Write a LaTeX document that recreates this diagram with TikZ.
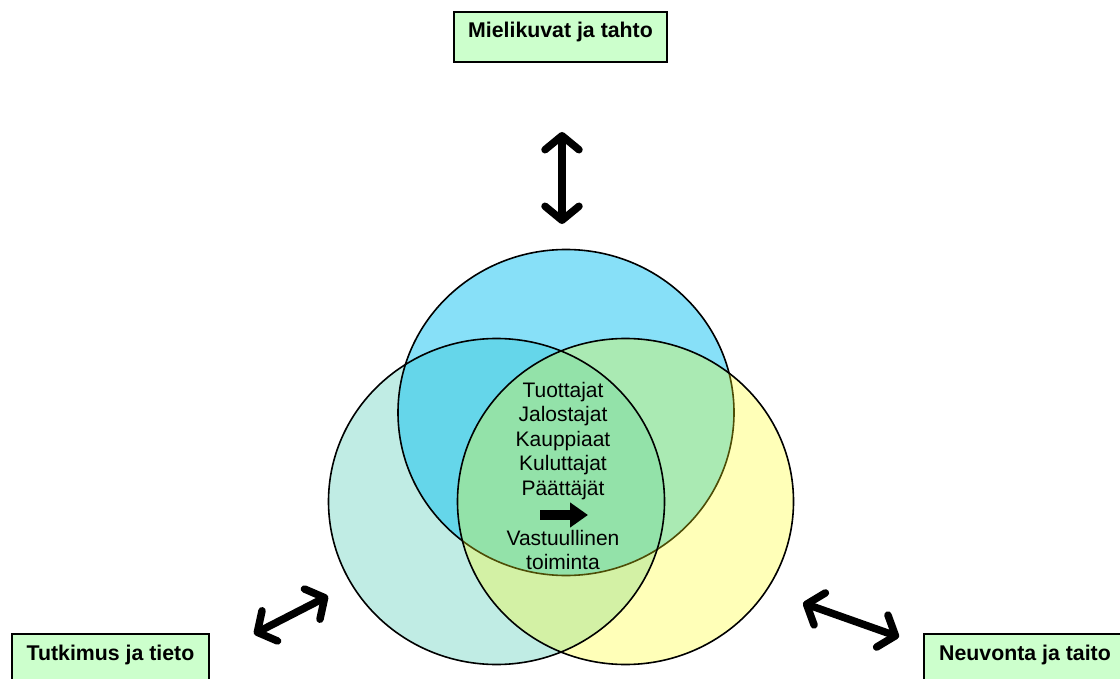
\documentclass[tikz,border=0pt]{standalone}
\usepackage{fontspec}
\setmainfont{Liberation Sans}
\usetikzlibrary{arrows.meta}
\pgfdeclarelayer{edgelayer}
\pgfdeclarelayer{nodelayer}
\pgfsetlayers{edgelayer,nodelayer,main}
\definecolor{boxgreen}{RGB}{204,255,204}
\definecolor{topblue}{RGB}{0,190,240}
\definecolor{leftmint}{RGB}{90,205,185}
\definecolor{rightyellow}{RGB}{255,255,20}
\tikzstyle{none} = []
\tikzstyle{theme} = [draw=black, line width=1.8pt, fill=boxgreen, font=\fontsize{21.3}{24}\selectfont\bfseries, inner xsep=0pt, inner ysep=11pt, text height=15pt, text depth=13pt]
\tikzstyle{actors} = [align=center, inner sep=0pt, font=\fontsize{21}{24.5}\selectfont]
\tikzstyle{ring} = [draw=black, line width=1.6pt]
\tikzstyle{twoway} = [line width=7.5pt, <->, >={Straight Barb[round, length=14pt, width=34pt]}]
\tikzstyle{lead} = [line width=10pt, -{Triangle[length=18pt, width=24pt]}]

\begin{document}
\begin{tikzpicture}[x=1pt, y=-1pt]
	\useasboundingbox (0, 0) rectangle (1120, 679);
	\begin{pgfonlayer}{nodelayer}
		\node [style=theme, minimum width=213pt] (0) at (560.5, 37) {Mielikuvat ja tahto};
		\node [style=theme, minimum width=197pt] (1) at (110.5, 659) {Tutkimus ja tieto};
		\node [style=theme, minimum width=202pt] (2) at (1025, 659) {Neuvonta ja taito};
		\node [style=none] (3) at (566, 412.5) {};
		\node [style=none] (4) at (496.5, 501.5) {};
		\node [style=none] (5) at (625.5, 501.5) {};
		\node [style=actors, anchor=north] (6) at (563, 382) {Tuottajat\\Jalostajat\\Kauppiaat\\Kuluttajat\\Päättäjät};
		\node [style=actors, anchor=north] (7) at (563, 530) {Vastuullinen\\toiminta};
		\node [style=none] (8) at (540, 515) {};
		\node [style=none] (9) at (588, 515) {};
		\node [style=none] (10) at (562, 132) {};
		\node [style=none] (11) at (562, 224) {};
		\node [style=none] (12) at (254, 634) {};
		\node [style=none] (13) at (328, 596) {};
		\node [style=none] (14) at (803, 603) {};
		\node [style=none] (15) at (899, 637) {};
	\end{pgfonlayer}
	\begin{pgfonlayer}{edgelayer}
		\fill [leftmint, fill opacity=0.38] (4.center) ellipse [x radius=168pt, y radius=163pt];
		\fill [topblue, fill opacity=0.47] (3.center) ellipse [x radius=168pt, y radius=163pt];
		\draw [style=ring] (3.center) ellipse [x radius=168pt, y radius=163pt];
		\fill [rightyellow, fill opacity=0.3] (5.center) ellipse [x radius=168pt, y radius=163pt];
		\draw [style=ring] (4.center) ellipse [x radius=168pt, y radius=163pt];
		\draw [style=ring] (5.center) ellipse [x radius=168pt, y radius=163pt];
		\draw [style=lead] (8.center) to (9.center);
		\draw [style=twoway] (10.center) to (11.center);
		\draw [style=twoway] (12.center) to (13.center);
		\draw [style=twoway] (14.center) to (15.center);
	\end{pgfonlayer}
\end{tikzpicture}
\end{document}
